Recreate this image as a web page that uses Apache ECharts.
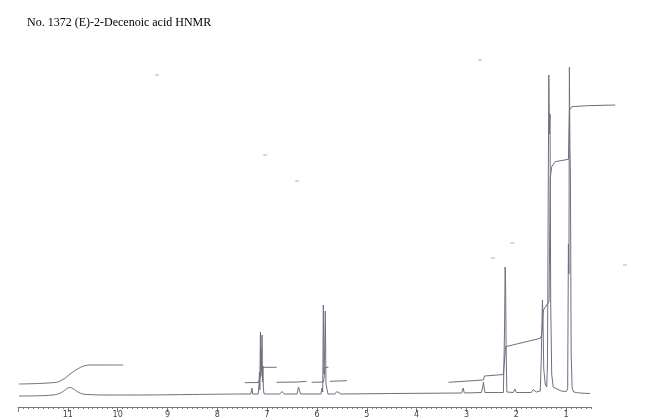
<!DOCTYPE html>
<html>
<head>
<meta charset="utf-8">
<script src="https://cdn.jsdelivr.net/npm/echarts@6/dist/echarts.min.js"></script>
<style>html,body{margin:0;padding:0;background:#fff}#chart{width:650px;height:420px}</style>
</head>
<body>
<div id="chart"></div>
<script>
// ---- data (ppm, intensity above baseline) ----
var titleText = 'No. 1372 (E)-2-Decenoic acid HNMR';
var tickLabels = [11, 10, 9, 8, 7, 6, 5, 4, 3, 2, 1];
var majorTicks = [12, 11, 10, 9, 8, 7, 6, 5, 4, 3, 2, 1];

var spectrumAcid = [[11.98,-2],[11.6,-1.8],[11.3,-1],[11.2,0],[11.15,1],[11.08,3],[11.02,5.5],[10.96,6.5],[10.9,5.5],[10.84,3.5],[10.78,1.5],[10.7,0],[10.6,-0.5],[10.3,-1],[9.5,-1],[8.5,-0.5],[7.6,0]];
var spectrumOlefin = [[7.6,0],[7.33,0],[7.305,6],[7.29,0],[7.18,0],[7.165,8],[7.155,22],[7.148,4],[7.135,62],[7.128,18],[7.12,45],[7.112,22],[7.103,59],[7.095,12],[7.085,28],[7.075,4],[7.06,0],[6.75,0],[6.70,2.5],[6.66,0],[6.40,0],[6.37,7],[6.35,6],[6.33,0],[5.92,0],[5.90,6],[5.885,2],[5.873,89],[5.86,20],[5.845,45],[5.833,83],[5.82,10],[5.80,5],[5.78,0],[5.64,0],[5.6,2.5],[5.56,2.5],[5.52,0],[4.5,0.5],[3.1,1]];
var spectrumAliphatic = [[3.1,1],[3.065,6],[3.045,1],[2.70,1.5],[2.67,8],[2.66,12],[2.645,6],[2.63,1.5],[2.36,1.5],[2.335,3.5],[2.32,1.5],[2.26,1.5],[2.245,40],[2.235,70],[2.225,127],[2.215,110],[2.205,45],[2.19,2],[2.06,1.5],[2.03,5],[2.00,1.5],[1.70,1.5],[1.66,4.5],[1.63,4.5],[1.60,2],[1.52,3],[1.50,35],[1.488,65],[1.476,94],[1.464,72],[1.45,25],[1.42,10],[1.39,7],[1.375,30],[1.36,200],[1.348,319],[1.336,260],[1.324,280],[1.31,90],[1.29,20],[1.26,7],[1.22,5],[1.10,3],[1.0,2.5],[0.97,5],[0.955,150],[0.945,120],[0.935,327],[0.925,250],[0.915,220],[0.90,40],[0.88,6],[0.85,2],[0.79,1.5],[0.765,3],[0.74,1],[0.52,0.5]];

var integralA = [[11.98,10],[11.23,11.7],[11.06,15.7],[10.98,19],[10.89,22.3],[10.72,27.3],[10.56,29],[9.89,29]];
var integralB = [[7.45,11.3],[7.18,11.5],[7.14,16],[7.12,23],[7.10,26.7],[6.81,26.7]];
var integralC = [[6.81,11.7],[6.38,12],[6.36,12.7],[6.21,12.7]];
var integralD = [[6.11,11.7],[5.87,12],[5.85,20],[5.835,26.7],[5.77,26.7]];
var integralE = [[5.74,12.7],[5.40,13.3]];
var integralF = [[3.36,11.7],[2.66,14],[2.64,18],[2.26,19.5],[2.235,20],[2.215,47.3],[1.52,55.7],[1.49,59],[1.456,84],[1.39,89],[1.343,92.3],[1.32,215.7],[1.29,227.3],[1.22,232.3],[0.954,234.7],[0.934,284],[0.886,287.3],[0.585,288.3],[0.016,289]];

var strayMarks = [[9.21,319],[7.04,239],[6.40,213],[2.73,334],[2.08,151],[2.47,136],[-0.18,129]];

// ---- chart ----
var lineColor = '#6f6f80';
function lineSeries(data, smooth) {
  return {
    type: 'line', data: data, xAxisIndex: 0, yAxisIndex: 0,
    showSymbol: false, symbol: 'none', smooth: smooth || false,
    clip: false, silent: true,
    lineStyle: { color: lineColor, width: 1 }
  };
}
var chart = echarts.init(document.getElementById('chart'), null, { renderer: 'canvas' });
chart.setOption({
  animation: false,
  backgroundColor: '#fff',
  title: {
    text: titleText, left: 22, top: 12,
    textStyle: { fontFamily: 'Liberation Serif', fontSize: 12, fontWeight: 'normal', color: '#000' }
  },
  grid: [
    { left: 18, right: 34, top: 40, bottom: 13 },   // spectrum area (0 .. 12 ppm)
    { left: 18, right: 59, top: 400, bottom: 13 }   // ruler (0.5 .. 12 ppm)
  ],
  xAxis: [
    {
      type: 'value', gridIndex: 0, min: 0, max: 12, inverse: true, show: false,
      splitLine: { show: false }
    },
    {
      type: 'value', gridIndex: 1, min: 0.5, max: 12, inverse: true, interval: 0.5, position: 'bottom',
      axisLine: { show: true, onZero: false, lineStyle: { color: '#777', width: 1 } },
      axisTick: { show: true, length: 2, lineStyle: { color: '#777' } },
      minorTick: { show: true, splitNumber: 5, length: 2, lineStyle: { color: '#777' } },
      axisLabel: { show: false },
      splitLine: { show: false }, minorSplitLine: { show: false }
    },
    {
      type: 'value', gridIndex: 1, min: 0.5, max: 12, inverse: true, position: 'bottom', offset: 0,
      axisLine: { show: false, onZero: false },
      axisTick: { show: true, customValues: majorTicks, length: 5, lineStyle: { color: '#777' } },
      axisLabel: { show: true, customValues: tickLabels, fontSize: 8, margin: 4, color: '#444', fontFamily: 'DejaVu Sans' },
      splitLine: { show: false }
    }
  ],
  yAxis: [
    { type: 'value', gridIndex: 0, min: -13, max: 354, show: false, splitLine: { show: false } },
    { type: 'value', gridIndex: 1, min: 0, max: 1, show: false, splitLine: { show: false } }
  ],
  series: [
    lineSeries(spectrumAcid, 0.3),
    lineSeries(spectrumOlefin),
    lineSeries(spectrumAliphatic),
    lineSeries(integralA, 0.3),
    lineSeries(integralB),
    lineSeries(integralC),
    lineSeries(integralD),
    lineSeries(integralE),
    lineSeries(integralF),
    {
      type: 'scatter', data: strayMarks, xAxisIndex: 0, yAxisIndex: 0, symbol: 'rect', symbolSize: [4, 1],
      clip: false, silent: true, itemStyle: { color: '#9a9aa8' }
    }
  ]
});
</script>
</body>
</html>
